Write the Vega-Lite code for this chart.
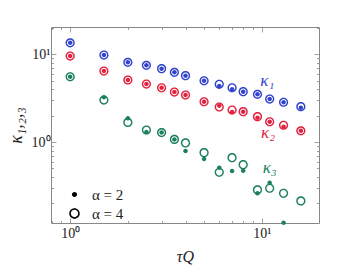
{
  "$schema": "https://vega.github.io/schema/vega-lite/v6.json",
  "autosize": {"type": "none"},
  "padding": {"left": 51, "top": 27, "right": 36, "bottom": 56},
  "width": 268,
  "height": 196,
  "background": "white",
  "config": {
    "view": {"stroke": null},
    "font": "Liberation Serif",
    "axis": {
      "domainColor": "#888888",
      "domainWidth": 1,
      "tickColor": "#888888",
      "tickWidth": 0.8,
      "grid": false,
      "labelFont": "Liberation Serif",
      "labelFontSize": 14,
      "labelColor": "#222222",
      "titleFont": "Liberation Serif",
      "titleFontWeight": "normal",
      "titleFontStyle": "italic",
      "titleFontSize": 16,
      "titleColor": "#222222"
    }
  },
  "datasets": {
    "pts": [
      {"tau": 1, "kappa": 13.4, "series": "k1", "alpha": "4"},
      {"tau": 1.5, "kappa": 9.74, "series": "k1", "alpha": "4"},
      {"tau": 2, "kappa": 8.05, "series": "k1", "alpha": "4"},
      {"tau": 2.5, "kappa": 7.44, "series": "k1", "alpha": "4"},
      {"tau": 3, "kappa": 6.81, "series": "k1", "alpha": "4"},
      {"tau": 3.5, "kappa": 6.19, "series": "k1", "alpha": "4"},
      {"tau": 4, "kappa": 5.67, "series": "k1", "alpha": "4"},
      {"tau": 5, "kappa": 4.97, "series": "k1", "alpha": "4"},
      {"tau": 6, "kappa": 4.53, "series": "k1", "alpha": "4"},
      {"tau": 7, "kappa": 4.14, "series": "k1", "alpha": "4"},
      {"tau": 8, "kappa": 3.73, "series": "k1", "alpha": "4"},
      {"tau": 9.5, "kappa": 3.48, "series": "k1", "alpha": "4"},
      {"tau": 11, "kappa": 3.08, "series": "k1", "alpha": "4"},
      {"tau": 13, "kappa": 2.83, "series": "k1", "alpha": "4"},
      {"tau": 16, "kappa": 2.52, "series": "k1", "alpha": "4"},
      {"tau": 1, "kappa": 13.4, "series": "k1", "alpha": "2"},
      {"tau": 1.5, "kappa": 9.74, "series": "k1", "alpha": "2"},
      {"tau": 2, "kappa": 8.05, "series": "k1", "alpha": "2"},
      {"tau": 2.5, "kappa": 7.44, "series": "k1", "alpha": "2"},
      {"tau": 3, "kappa": 6.81, "series": "k1", "alpha": "2"},
      {"tau": 3.5, "kappa": 6.19, "series": "k1", "alpha": "2"},
      {"tau": 4, "kappa": 5.67, "series": "k1", "alpha": "2"},
      {"tau": 5, "kappa": 4.97, "series": "k1", "alpha": "2"},
      {"tau": 6, "kappa": 4.33, "series": "k1", "alpha": "2"},
      {"tau": 7, "kappa": 3.97, "series": "k1", "alpha": "2"},
      {"tau": 8, "kappa": 3.73, "series": "k1", "alpha": "2"},
      {"tau": 9.5, "kappa": 3.48, "series": "k1", "alpha": "2"},
      {"tau": 11, "kappa": 3.08, "series": "k1", "alpha": "2"},
      {"tau": 13, "kappa": 2.83, "series": "k1", "alpha": "2"},
      {"tau": 16, "kappa": 2.45, "series": "k1", "alpha": "2"},
      {"tau": 1, "kappa": 9.49, "series": "k2", "alpha": "4"},
      {"tau": 1.5, "kappa": 6.41, "series": "k2", "alpha": "4"},
      {"tau": 2, "kappa": 5.07, "series": "k2", "alpha": "4"},
      {"tau": 2.5, "kappa": 4.56, "series": "k2", "alpha": "4"},
      {"tau": 3, "kappa": 4.14, "series": "k2", "alpha": "4"},
      {"tau": 3.5, "kappa": 3.70, "series": "k2", "alpha": "4"},
      {"tau": 4, "kappa": 3.42, "series": "k2", "alpha": "4"},
      {"tau": 5, "kappa": 2.87, "series": "k2", "alpha": "4"},
      {"tau": 6, "kappa": 2.50, "series": "k2", "alpha": "4"},
      {"tau": 7, "kappa": 2.31, "series": "k2", "alpha": "4"},
      {"tau": 8, "kappa": 2.21, "series": "k2", "alpha": "4"},
      {"tau": 9.5, "kappa": 1.94, "series": "k2", "alpha": "4"},
      {"tau": 11, "kappa": 1.70, "series": "k2", "alpha": "4"},
      {"tau": 13, "kappa": 1.55, "series": "k2", "alpha": "4"},
      {"tau": 16, "kappa": 1.34, "series": "k2", "alpha": "4"},
      {"tau": 1, "kappa": 9.49, "series": "k2", "alpha": "2"},
      {"tau": 1.5, "kappa": 6.41, "series": "k2", "alpha": "2"},
      {"tau": 2, "kappa": 5.07, "series": "k2", "alpha": "2"},
      {"tau": 2.5, "kappa": 4.56, "series": "k2", "alpha": "2"},
      {"tau": 3, "kappa": 4.14, "series": "k2", "alpha": "2"},
      {"tau": 3.5, "kappa": 3.70, "series": "k2", "alpha": "2"},
      {"tau": 4, "kappa": 3.42, "series": "k2", "alpha": "2"},
      {"tau": 5, "kappa": 2.87, "series": "k2", "alpha": "2"},
      {"tau": 6, "kappa": 2.59, "series": "k2", "alpha": "2"},
      {"tau": 7, "kappa": 2.19, "series": "k2", "alpha": "2"},
      {"tau": 8, "kappa": 2.21, "series": "k2", "alpha": "2"},
      {"tau": 9.5, "kappa": 1.89, "series": "k2", "alpha": "2"},
      {"tau": 11, "kappa": 1.70, "series": "k2", "alpha": "2"},
      {"tau": 13, "kappa": 1.49, "series": "k2", "alpha": "2"},
      {"tau": 16, "kappa": 1.34, "series": "k2", "alpha": "2"},
      {"tau": 1, "kappa": 5.52, "series": "k3", "alpha": "4"},
      {"tau": 1.5, "kappa": 3.00, "series": "k3", "alpha": "4"},
      {"tau": 2, "kappa": 1.67, "series": "k3", "alpha": "4"},
      {"tau": 2.5, "kappa": 1.37, "series": "k3", "alpha": "4"},
      {"tau": 3, "kappa": 1.28, "series": "k3", "alpha": "4"},
      {"tau": 3.5, "kappa": 1.07, "series": "k3", "alpha": "4"},
      {"tau": 4, "kappa": 0.975, "series": "k3", "alpha": "4"},
      {"tau": 5, "kappa": 0.756, "series": "k3", "alpha": "4"},
      {"tau": 6, "kappa": 0.453, "series": "k3", "alpha": "4"},
      {"tau": 7, "kappa": 0.663, "series": "k3", "alpha": "4"},
      {"tau": 8, "kappa": 0.552, "series": "k3", "alpha": "4"},
      {"tau": 9.5, "kappa": 0.285, "series": "k3", "alpha": "4"},
      {"tau": 11, "kappa": 0.298, "series": "k3", "alpha": "4"},
      {"tau": 13, "kappa": 0.261, "series": "k3", "alpha": "4"},
      {"tau": 16, "kappa": 0.214, "series": "k3", "alpha": "4"},
      {"tau": 1, "kappa": 5.52, "series": "k3", "alpha": "2"},
      {"tau": 1.5, "kappa": 3.22, "series": "k3", "alpha": "2"},
      {"tau": 2, "kappa": 1.86, "series": "k3", "alpha": "2"},
      {"tau": 2.5, "kappa": 1.30, "series": "k3", "alpha": "2"},
      {"tau": 3, "kappa": 1.28, "series": "k3", "alpha": "2"},
      {"tau": 3.5, "kappa": 1.07, "series": "k3", "alpha": "2"},
      {"tau": 4, "kappa": 0.79, "series": "k3", "alpha": "2"},
      {"tau": 5, "kappa": 0.641, "series": "k3", "alpha": "2"},
      {"tau": 6, "kappa": 0.511, "series": "k3", "alpha": "2"},
      {"tau": 7, "kappa": 0.468, "series": "k3", "alpha": "2"},
      {"tau": 8, "kappa": 0.472, "series": "k3", "alpha": "2"},
      {"tau": 9.5, "kappa": 0.261, "series": "k3", "alpha": "2"},
      {"tau": 11, "kappa": 0.345, "series": "k3", "alpha": "2"},
      {"tau": 13, "kappa": 0.121, "series": "k3", "alpha": "2"}
    ],
    "labels": [
      {"tau": 10.7, "kappa": 4.9, "series": "k1", "text": "κ₁"},
      {"tau": 10.8, "kappa": 1.26, "series": "k2", "text": "κ₂"},
      {"tau": 11.0, "kappa": 0.5, "series": "k3", "text": "κ₃"}
    ]
  },
  "layer": [
    {
      "data": {"name": "pts"},
      "mark": {"type": "point", "filled": true, "opacity": 1, "size": 100},
      "encoding": {
        "x": {
          "field": "tau", "type": "quantitative",
          "scale": {"type": "log", "domain": [0.794, 19.9], "nice": false},
          "axis": {
            "orient": "bottom",
            "title": "τQ",
            "titlePadding": 8,
            "values": [0.8, 0.9, 1, 2, 3, 4, 5, 6, 7, 8, 9, 10],
            "labelExpr": "datum.value == 1 ? '10⁰' : (datum.value == 10 ? '10¹' : '')",
            "tickSize": {"condition": {"test": "datum.value == 1 || datum.value == 10", "value": -5}, "value": -2.5},
            "labelPadding": 8
          }
        },
        "y": {
          "field": "kappa", "type": "quantitative",
          "scale": {"type": "log", "domain": [0.12, 20.3], "nice": false},
          "axis": {
            "orient": "left",
            "title": "κ₁,₂,₃",
            "titlePadding": 6,
            "titleFontSize": 18,
            "values": [0.2, 0.3, 0.4, 0.5, 0.6, 0.7, 0.8, 0.9, 1, 2, 3, 4, 5, 6, 7, 8, 9, 10, 20],
            "labelExpr": "datum.value == 1 ? '10⁰' : (datum.value == 10 ? '10¹' : '')",
            "tickSize": {"condition": {"test": "datum.value == 1 || datum.value == 10", "value": -5}, "value": -2.5},
            "labelPadding": 6
          }
        },
        "color": {
          "field": "series", "type": "nominal",
          "scale": {"domain": ["k1", "k2", "k3"], "range": ["#3344cc", "#e2223f", "#1c7f5f"]},
          "legend": null
        },
        "shape": {
          "field": "alpha", "type": "nominal",
          "scale": {
            "domain": ["2", "4"],
            "range": [
              "M0,-0.45A0.45,0.45 0 1,1 0,0.45A0.45,0.45 0 1,1 0,-0.45Z",
              "M0,-0.92A0.92,0.92 0 1,1 0,0.92A0.92,0.92 0 1,1 0,-0.92ZM0,-0.64A0.64,0.64 0 1,0 0,0.64A0.64,0.64 0 1,0 0,-0.64Z"
            ]
          },
          "legend": {
            "orient": "none",
            "legendX": 16,
            "legendY": 160,
            "title": null,
            "labelExpr": "'α = ' + datum.label",
            "labelFont": "Liberation Serif",
            "labelFontSize": 15,
            "labelColor": "#222222",
            "symbolSize": 130,
            "symbolFillColor": "black",
            "symbolStrokeColor": "black",
            "symbolStrokeWidth": 0,
            "rowPadding": 3,
            "labelOffset": 10
          }
        }
      }
    },
    {
      "data": {"name": "labels"},
      "mark": {"type": "text", "fontSize": 17, "font": "Liberation Serif", "fontStyle": "italic"},
      "encoding": {
        "x": {"field": "tau", "type": "quantitative", "axis": null},
        "y": {"field": "kappa", "type": "quantitative", "axis": null},
        "text": {"field": "text"},
        "color": {"field": "series", "type": "nominal", "legend": null}
      }
    },
    {
      "data": {"name": "pts"},
      "mark": {"type": "point", "opacity": 0},
      "encoding": {
        "x": {
          "field": "tau", "type": "quantitative",
          "axis": {
            "orient": "top", "title": null, "labels": false,
            "values": [0.8, 0.9, 1, 2, 3, 4, 5, 6, 7, 8, 9, 10],
            "tickSize": {"condition": {"test": "datum.value == 1 || datum.value == 10", "value": -5}, "value": -2.5}
          }
        },
        "y": {
          "field": "kappa", "type": "quantitative",
          "axis": {
            "orient": "right", "title": null, "labels": false,
            "values": [0.2, 0.3, 0.4, 0.5, 0.6, 0.7, 0.8, 0.9, 1, 2, 3, 4, 5, 6, 7, 8, 9, 10, 20],
            "tickSize": {"condition": {"test": "datum.value == 1 || datum.value == 10", "value": -5}, "value": -2.5}
          }
        }
      }
    }
  ],
  "resolve": {"axis": {"x": "independent", "y": "independent"}}
}
